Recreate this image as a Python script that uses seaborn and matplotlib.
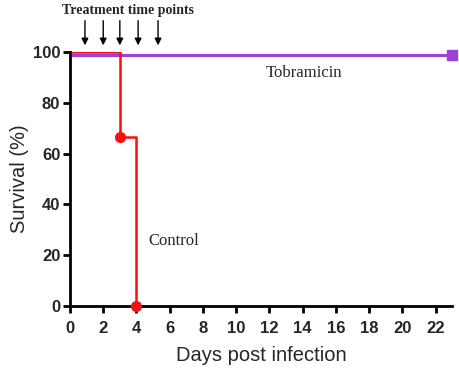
import matplotlib
matplotlib.use("Agg")
import matplotlib.pyplot as plt
import seaborn as sns
import pandas as pd

control_days = [0, 3, 3, 4, 4]
control_surv = [100, 100, 66.7, 66.7, 0]
control_marker_days = [3, 4]
control_marker_surv = [66.7, 0]
tobra_days = [0, 23]
tobra_surv = [99, 99]
treatment_days = [0.9, 2.0, 3.0, 4.1, 5.3]
xticks = list(range(0, 23, 2))
yticks = [0, 20, 40, 60, 80, 100]

sns.set_style("ticks")
plt.rcParams['font.family'] = ['Liberation Sans', 'DejaVu Sans']

fig = plt.figure(figsize=(4.59, 3.70), dpi=100)
ax = fig.add_axes([0.1525, 0.173, 0.8325, 0.686])

red = "#f50f0f"
purple = "#a040d8"

sns.lineplot(x=tobra_days, y=tobra_surv, ax=ax, color=purple, lw=2.2,
             estimator=None, sort=False)
ax.plot([tobra_days[-1]], [tobra_surv[-1]], marker="s", ms=7, color=purple,
        clip_on=False, zorder=5)
sns.lineplot(x=control_days, y=control_surv, ax=ax, color=red, lw=1.8,
             estimator=None, sort=False)
ax.plot(control_marker_days, control_marker_surv, "o", color=red, ms=7,
        clip_on=False, zorder=6)

ax.set_xlim(0, 23)
ax.set_ylim(0, 100)
ax.set_xticks(xticks)
ax.set_yticks(yticks)
for s in ["top", "right"]:
    ax.spines[s].set_visible(False)
for s in ["left", "bottom"]:
    ax.spines[s].set_linewidth(2)
    ax.spines[s].set_color("black")
ax.tick_params(width=2, length=5, color="black", labelsize=12, pad=2)
ax.tick_params(axis="x", pad=6)
for lab in ax.get_xticklabels() + ax.get_yticklabels():
    lab.set_fontweight("bold")
ax.set_xlabel("Days post infection", fontsize=14.5, labelpad=7)
ax.set_ylabel("Survival (%)", fontsize=14.5, labelpad=3)

for d in treatment_days:
    ax.annotate("", xy=(d, 101.6), xytext=(d, 113.5), xycoords="data",
                arrowprops=dict(arrowstyle="-|>", color="black", lw=1.0,
                                mutation_scale=10),
                annotation_clip=False)
ax.text(-0.5, 116.6, "Treatment time points", family="Liberation Serif",
        fontweight="bold", fontsize=10, ha="left", va="center", clip_on=False)
ax.text(11.8, 91.7, "Tobramicin", family="Liberation Serif", fontsize=12,
        ha="left", va="center")
ax.text(4.7, 25.5, "Control", family="Liberation Serif", fontsize=12,
        ha="left", va="center")

fig.savefig("out.png", dpi=100)
